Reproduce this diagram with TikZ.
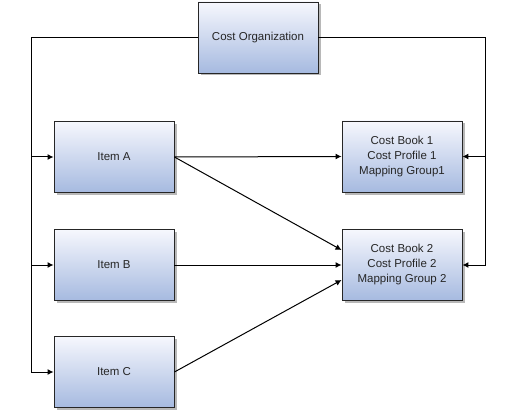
\documentclass[tikz,border=0pt]{standalone}
\usepackage{fontspec}
\setmainfont{Liberation Sans}
\usetikzlibrary{shadows,arrows.meta}
\definecolor{boxtop}{HTML}{F6F7FD}
\definecolor{boxbot}{HTML}{A6BAE0}
\tikzset{
  box/.style={draw=black!85, line width=0.9pt, minimum width=120pt, minimum height=71pt,
    inner sep=2pt, top color=boxtop, bottom color=boxbot, align=center,
    font=\fontsize{11.5pt}{15pt}\selectfont, text=black!85,
    drop shadow={shadow xshift=2.5pt, shadow yshift=-2.5pt, fill=black!35, opacity=0.8}},
  conn/.style={draw=black, line width=1pt},
  arr/.style={conn, -{Latex[length=6pt,width=6pt]}}
}
\begin{document}
\begin{tikzpicture}[x=1pt,y=-1pt]
\useasboundingbox (0,0) rectangle (516,414);
\node[box] (co) at (258,37.5) {Cost Organization};
\node[box] (ia) at (114,157) {Item A};
\node[box] (ib) at (114,265) {Item B};
\node[box] (ic) at (114,372) {Item C};
\node[box] (cb1) at (402,156.5) {Cost Book 1\\Cost Profile 1\\Mapping Group1};
\node[box] (cb2) at (402,265) {Cost Book 2\\Cost Profile 2\\Mapping Group 2};
\coordinate (lx) at (31,0);
\coordinate (rx) at (485,0);
\draw[arr] (co.west) -- (co.west -| lx) |- (ic.west);
\draw[arr] (ia.west -| lx) -- (ia.west);
\draw[arr] (ib.west -| lx) -- (ib.west);
\draw[arr] (co.east) -- (co.east -| rx) |- (cb2.east);
\draw[arr] (cb1.east -| rx) -- (cb1.east);
\draw[arr] (ia.east) -- (cb1.west);
\draw[arr] (ia.east) -- ([yshift=15pt]cb2.west);
\draw[arr] (ib.east) -- (cb2.west);
\draw[arr] (ic.east) -- ([yshift=-15pt]cb2.west);
\end{tikzpicture}
\end{document}
